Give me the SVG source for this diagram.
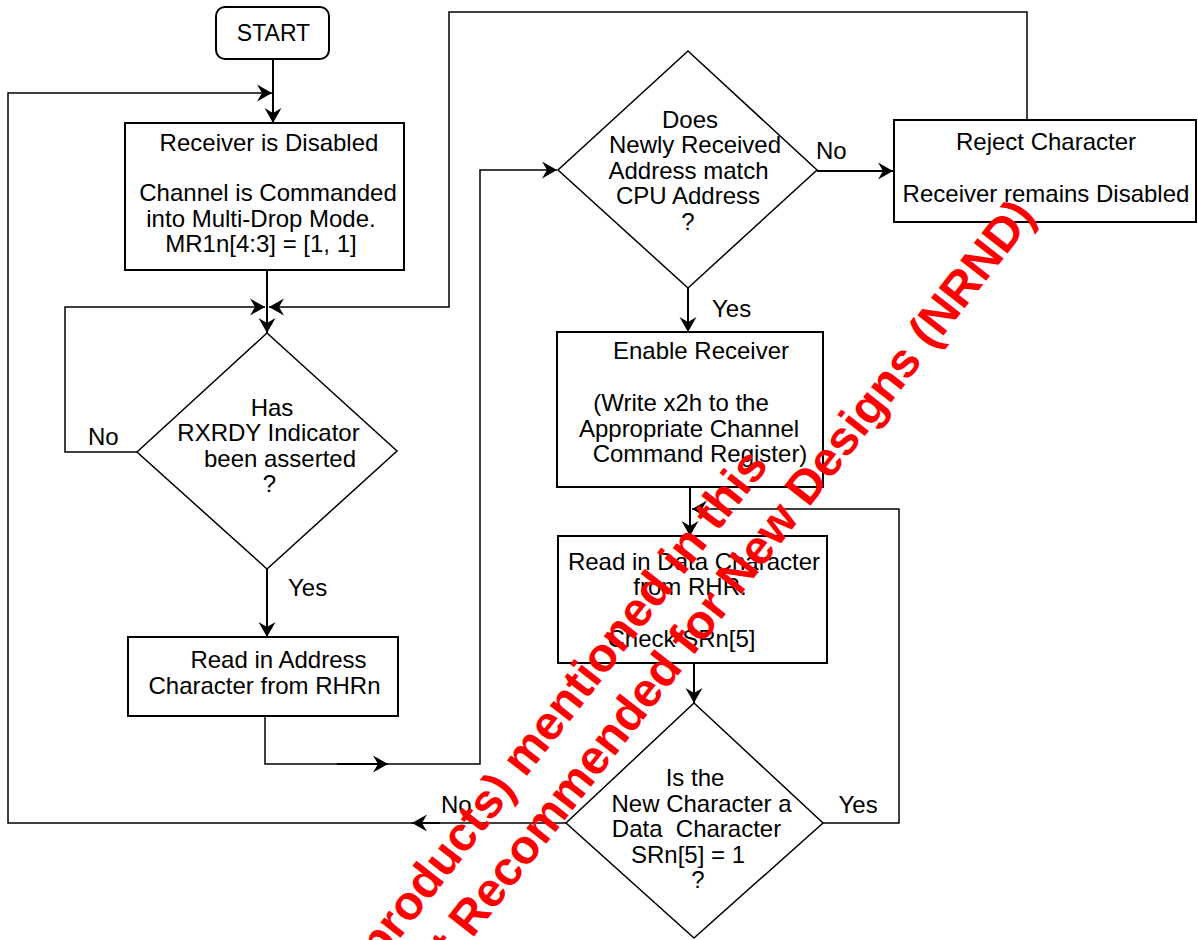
<svg xmlns="http://www.w3.org/2000/svg" width="1198" height="940" viewBox="0 0 1198 940">
<defs>
<marker id="ah" markerUnits="userSpaceOnUse" markerWidth="16" markerHeight="18" viewBox="0 0 16 18" refX="15" refY="9" orient="auto">
<path d="M0,0.5 L15,9 L0,17.5 L5,9 Z" fill="#000"/>
</marker>
</defs>
<style>
.t{font-family:"Liberation Sans",Arial,Helvetica,sans-serif;font-size:24px;fill:#000;text-anchor:middle;white-space:pre}
.l{text-anchor:start}
.box{fill:#fff;stroke:#000;stroke-width:2}
.dia{fill:#fff;stroke:#000;stroke-width:1.5}
.c{fill:none;stroke:#000;stroke-width:2}
.c2{fill:none;stroke:#000;stroke-width:1.5}
.wm{font-family:"Liberation Sans",Arial,sans-serif;font-weight:bold;font-size:48px;fill:#ff0000;text-anchor:end}
</style>
<rect width="1198" height="940" fill="#fff"/>
<g id="connectors">
<path class="c" d="M273,59 V123" marker-end="url(#ah)"/>
<path class="c2" d="M566,823 H8 V93 H272" marker-end="url(#ah)"/>
<path class="c" d="M440,823 H412" marker-end="url(#ah)"/>
<path class="c" d="M267,270 V333" marker-end="url(#ah)"/>
<path class="c2" d="M137,452 H65 V307 H265" marker-end="url(#ah)"/>
<path class="c2" d="M1027,120 V12 H449 V307 H269" marker-end="url(#ah)"/>
<path class="c" d="M267,569 V637" marker-end="url(#ah)"/>
<path class="c2" d="M265,716 V764 H480 V170 H557" marker-end="url(#ah)"/>
<path class="c" d="M337,764 H388" marker-end="url(#ah)"/>
<path class="c" d="M817,171 H893" marker-end="url(#ah)"/>
<path class="c" d="M688,288 V332" marker-end="url(#ah)"/>
<path class="c" d="M690,487 V536" marker-end="url(#ah)"/>
<path class="c2" d="M823,823 H899 V509 H692" marker-end="url(#ah)"/>
<path class="c" d="M694,663 V703" marker-end="url(#ah)"/>
</g>
<g id="start">
<rect class="box" x="216" y="7" width="113" height="52" rx="9"/>
<text class="t" x="273.5" y="41" style="font-size:23px">START</text>
</g>
<g id="receiver-disabled">
<rect class="box" x="125" y="123" width="279" height="147"/>
<text class="t" x="269" y="151">Receiver is Disabled</text>
<text class="t" x="268" y="201">Channel is Commanded</text>
<text class="t" x="261" y="227">into Multi-Drop Mode.</text>
<text class="t" x="261" y="252">MR1n[4:3] = [1, 1]</text>
</g>
<g id="rxrdy-decision">
<polygon class="dia" points="267,333 397,451 267,569 137,452"/>
<text class="t" x="272" y="416">Has</text>
<text class="t" x="268.5" y="441">RXRDY Indicator</text>
<text class="t" x="280" y="467">been asserted</text>
<text class="t" x="269.5" y="492">?</text>
<text class="t l" x="88" y="445">No</text>
<text class="t l" x="288" y="596">Yes</text>
</g>
<g id="read-address">
<rect class="box" x="128" y="637" width="270" height="79"/>
<text class="t" x="278.5" y="668">Read in Address</text>
<text class="t" x="264.5" y="694">Character from RHRn</text>
</g>
<g id="address-match-decision">
<polygon class="dia" points="688,51 817,170 688,288 558,170"/>
<text class="t" x="690" y="128">Does</text>
<text class="t" x="695" y="153">Newly Received</text>
<text class="t" x="688.5" y="178.5">Address match</text>
<text class="t" x="688" y="204">CPU Address</text>
<text class="t" x="688" y="230">?</text>
<text class="t l" x="816" y="159">No</text>
<text class="t l" x="712" y="317">Yes</text>
</g>
<g id="reject-character">
<rect class="box" x="894" y="120" width="302" height="102"/>
<text class="t" x="1046" y="150">Reject Character</text>
<text class="t" x="1046" y="202">Receiver remains Disabled</text>
</g>
<g id="enable-receiver">
<rect class="box" x="557" y="332" width="266" height="155"/>
<text class="t" x="701" y="359">Enable Receiver</text>
<text class="t" x="681" y="411">(Write x2h to the</text>
<text class="t" x="689" y="437">Appropriate Channel</text>
<text class="t" x="700" y="462">Command Register)</text>
</g>
<g id="read-data">
<rect class="box" x="558" y="536" width="269" height="127"/>
<text class="t" x="694" y="570">Read in Data Character</text>
<text class="t" x="690" y="595">from RHR.</text>
<text class="t" x="681.5" y="647">Check SRn[5]</text>
</g>
<g id="data-char-decision">
<polygon class="dia" points="694,703 823,823 694,938 566,823"/>
<text class="t" x="695" y="786">Is the</text>
<text class="t" x="701.5" y="812">New Character a</text>
<text class="t" x="696.5" y="837">Data  Character</text>
<text class="t" x="688" y="863">SRn[5] = 1</text>
<text class="t" x="698" y="888">?</text>
<text class="t l" x="838.5" y="813">Yes</text>
<text class="t l" x="441" y="813">No</text>
</g>
<g id="watermark" transform="rotate(-52)">
<text class="wm" x="107" y="893">products) mentioned in this</text>
<text class="wm" x="468" y="950">t Recommended for New Designs (NRND)</text>
</g>
</svg>
